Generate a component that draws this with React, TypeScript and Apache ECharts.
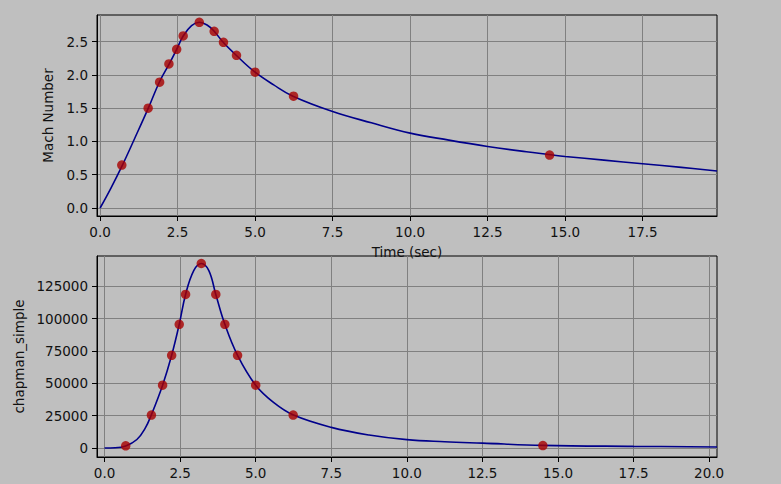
import React, { useEffect, useRef } from "react";
import * as echarts from "echarts";

// Mach number curve (time in sec, Mach)
const machTime = [0, 0.35, 0.72, 1.1, 1.555, 1.91, 2.23, 2.47, 2.68, 2.95, 3.2, 3.45, 3.68, 3.97, 4.39, 5.0, 5.6, 6.22, 7.5, 8.75, 10, 11.25, 12.5, 13.75, 14.46, 15, 16.25, 17.5, 18.75, 19.9];
const machValue = [0, 0.3, 0.645, 1.03, 1.5, 1.89, 2.165, 2.385, 2.585, 2.74, 2.79, 2.75, 2.655, 2.49, 2.295, 2.04, 1.85, 1.68, 1.45, 1.28, 1.125, 1.02, 0.925, 0.845, 0.805, 0.775, 0.72, 0.665, 0.61, 0.555];

// chapman_simple curve
const chapTime = [0, 0.35, 0.7, 1.07, 1.35, 1.545, 1.92, 2.22, 2.47, 2.68, 2.95, 3.2, 3.45, 3.68, 3.98, 4.4, 5.0, 5.6, 6.25, 7.5, 8.75, 10, 11.25, 12.5, 14.5, 17.5, 20.26];
const chapValue = [0, 150, 1540, 6500, 15500, 25400, 48500, 71600, 95500, 118600, 137000, 142500, 137000, 118600, 95500, 71600, 48500, 35000, 25400, 15900, 10000, 6400, 4800, 3700, 2000, 1230, 770];

// marker points
const markerTime = [0.7, 1.55, 1.92, 2.22, 2.47, 2.68, 3.2, 3.68, 3.98, 4.4, 5.0, 6.24, 14.5];
const markerMach = [0.645, 1.5, 1.89, 2.165, 2.385, 2.585, 2.79, 2.655, 2.49, 2.295, 2.04, 1.68, 0.795];
const markerChap = [1600, 25400, 48500, 71600, 95500, 118600, 142500, 118600, 95500, 71600, 48500, 25400, 1800];

// tick labels
const topXTicks = [0, 2.5, 5, 7.5, 10, 12.5, 15, 17.5];
const bottomXTicks = [0, 2.5, 5, 7.5, 10, 12.5, 15, 17.5, 20];
const machTicks = [0, 0.5, 1.0, 1.5, 2.0, 2.5];
const chapTicks = [0, 25000, 50000, 75000, 100000, 125000];

const FONT = "DejaVu Sans";
const FS = 13.5;

export default function App() {
  const ref = useRef<HTMLDivElement>(null);
  useEffect(() => {
    if (!ref.current) return;
    const chart = echarts.init(ref.current, undefined, { renderer: "svg" });
    const zip = (xs: number[], ys: number[]) => xs.map((x, i) => [x, ys[i]]);
    const axisCommon = {
      axisLine: { show: true, onZero: false, lineStyle: { color: "#000", width: 1 } },
      axisTick: { show: true, inside: false, length: 5, lineStyle: { color: "#000", width: 1 } },
      splitLine: { show: true, lineStyle: { color: "#808080", width: 1 } },
    };
    const labelCommon = { color: "#111", fontFamily: FONT, fontSize: FS };
    chart.setOption({
      animation: false,
      backgroundColor: "#bfbfbf",
      textStyle: { fontFamily: FONT },
      grid: [
        { left: 97, right: 64, top: 15, height: 201, show: true, borderColor: "#000", borderWidth: 1, backgroundColor: "transparent" },
        { left: 97, right: 64, top: 256, height: 201, show: true, borderColor: "#000", borderWidth: 1, backgroundColor: "transparent" },
      ],
      xAxis: [
        {
          type: "value", gridIndex: 0, min: -0.1, max: 19.9,
          ...axisCommon,
          axisTick: { ...axisCommon.axisTick, customValues: topXTicks },
          axisLabel: { ...labelCommon, margin: 9, customValues: topXTicks, formatter: (v: number) => v.toFixed(1) },
          name: "Time (sec)", nameLocation: "middle", nameGap: 29,
          nameTextStyle: { color: "#111", fontFamily: FONT, fontSize: FS },
        },
        {
          type: "value", gridIndex: 1, min: -0.25, max: 20.26,
          ...axisCommon,
          axisTick: { ...axisCommon.axisTick, customValues: bottomXTicks },
          axisLabel: { ...labelCommon, margin: 9, customValues: bottomXTicks, formatter: (v: number) => v.toFixed(1) },
        },
      ],
      yAxis: [
        {
          type: "value", gridIndex: 0, min: -0.12, max: 2.9,
          ...axisCommon,
          axisTick: { ...axisCommon.axisTick, customValues: machTicks },
          axisLabel: { ...labelCommon, margin: 9, customValues: machTicks, formatter: (v: number) => v.toFixed(1) },
          name: "Mach Number", nameLocation: "middle", nameGap: 42,
          nameTextStyle: { color: "#111", fontFamily: FONT, fontSize: FS },
        },
        {
          type: "value", gridIndex: 1, min: -7000, max: 148300,
          ...axisCommon,
          axisTick: { ...axisCommon.axisTick, customValues: chapTicks },
          axisLabel: { ...labelCommon, margin: 9, customValues: chapTicks, formatter: (v: number) => String(v) },
          name: "chapman_simple", nameLocation: "middle", nameGap: 70,
          nameTextStyle: { color: "#111", fontFamily: FONT, fontSize: FS },
        },
      ],
      series: [
        {
          type: "line", xAxisIndex: 0, yAxisIndex: 0, data: zip(machTime, machValue),
          smooth: 0.4, showSymbol: false, symbol: "none",
          lineStyle: { color: "#00008b", width: 1.6 }, z: 2,
        },
        {
          type: "scatter", xAxisIndex: 0, yAxisIndex: 0, data: zip(markerTime, markerMach),
          symbolSize: 9.5, itemStyle: { color: "#a80000" }, z: 3,
        },
        {
          type: "line", xAxisIndex: 1, yAxisIndex: 1, data: zip(chapTime, chapValue),
          smooth: 0.4, showSymbol: false, symbol: "none",
          lineStyle: { color: "#00008b", width: 1.6 }, z: 2,
        },
        {
          type: "scatter", xAxisIndex: 1, yAxisIndex: 1, data: zip(markerTime, markerChap),
          symbolSize: 9.5, itemStyle: { color: "#a80000" }, z: 3,
        },
      ],
    });
    return () => chart.dispose();
  }, []);
  return (
    <div
      ref={ref}
      style={{ position: "fixed", left: 0, top: 0, width: 781, height: 484 }}
    />
  );
}
